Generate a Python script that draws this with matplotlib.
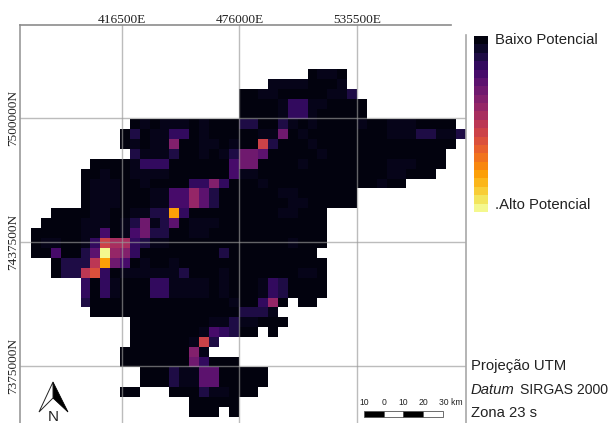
import numpy as np
import matplotlib
matplotlib.use("Agg")
import matplotlib.pyplot as plt
from matplotlib.patches import Polygon, Rectangle

W, H = 611, 423

# potential level per 5 km cell: 0-9 then a=10 ... k=20, '.' = no data
row_start = [28, 24, 21, 21, 21, 10, 9, 9, 10, 6, 5, 5, 5, 5, 2, 1, 0, 0, 0, 2, 2, 5, 5, 5, 6,
             10, 10, 10, 9, 9, 11, 11, 9, 16, 16]
row_cells = [
    "0110",
    "11110001",
    "001100000112",
    "0000133110000",
    "0000133100000",
    "01011101000" + "220021010000" + "1001110000",
    "020113301000" + "001160100000" + "00011122112",
    "010117001101" + "00b200010000" + "0000000000",
    "21112001012" + "665000001000" + "000000000",
    "0000" + "13330000004" + "660000100000" + "000111000",
    "00100" + "11110000004" + "110000000000" + "00011000",
    "01110" + "01000033730" + "001000000000" + "00100",
    "01110" + "00114485200" + "000011000000",
    "01110" + "00114485200" + "000001100000",
    "00001100" + "1122g300000" + "000011000",
    "000011101" + "26125011100" + "000000000",
    "0000011401" + "46220011000" + "000000000",
    "0110013b99" + "32110000000" + "000001000",
    "0040025k87" + "30000000020" + "00000000",
    "0222ag64" + "01001000000" + "000000000",
    "022ac301" + "11111200010" + "000000110",
    "30310" + "00331111010" + "001320000",
    "30310" + "00331111010" + "001320000",
    "20000" + "00000000001" + "00380" + ".00",
    "0000" + "00000000000" + "2221",
    "00000000112" + "11000",
    "0000000143200" + ".0",
    "000000" + "1b2",
    "0000000" + "71",
    "0000000" + "63000",
    "0002115500000",
    "0002115500000",
    "00..." + "000211000",
    "00000",
    "000.0",
]
level_chars = "0123456789abcdefghijk"
# the faintest class is barely above black in the picture
faint_value = 0.45
legend_levels = list(range(21))

x_ticks = [416500, 476000, 535500]
y_ticks = [7500000, 7437500, 7375000]
scale_labels = ["10", "0", "10", "20", "30 km"]
scale_pos = [-10000, 0, 10000, 20000, 30000]

x0, y_top = 370500, 7524500
cell = 5000
n_rows, n_cols = len(row_cells), 44

grid = np.full((n_rows, n_cols), np.nan)
for r, (start, cells) in enumerate(zip(row_start, row_cells)):
    for k, ch in enumerate(cells):
        if ch != ".":
            grid[r, start + k] = level_chars.index(ch)
grid[grid == 1] = faint_value

cmap = plt.get_cmap("inferno").copy()
cmap.set_bad("white")
sans = "Liberation Sans"
serif = "Liberation Serif"


def fx(px):
    return px / W


def fy(py):
    return 1 - py / H


def add_axes_px(left, top, right, bottom):
    return fig.add_axes([fx(left), fy(bottom), (right - left) / W, (bottom - top) / H])


fig = plt.figure(figsize=(W / 100, H / 100), dpi=100)

# map axes, in UTM metres
ax = add_axes_px(19.5, 25.5, 465.5, 423)
ax.set_xlim(364600, 590450)
ax.set_ylim(7346280, 7546620)
for s in ax.spines.values():
    s.set_visible(False)
ax.set_xticks([])
ax.set_yticks([])

xe = x0 + cell * np.arange(n_cols + 1)
ye = y_top - cell * np.arange(n_rows + 1)
ax.pcolormesh(xe, ye, np.ma.masked_invalid(grid), cmap=cmap, vmin=-0.5, vmax=20.5)

grid_col = (0.6, 0.6, 0.6)
for x in x_ticks:
    ax.axvline(x, color=grid_col, lw=1.0, alpha=0.65, zorder=3)
    ax.text(x, 7546620 - 300, f"{x}E", family=serif, fontsize=9.6, ha="center", va="bottom",
            color="#222222", clip_on=False)
for y in y_ticks:
    ax.axhline(y, color=grid_col, lw=1.0, alpha=0.65, zorder=3)
    ax.text(364600, y, f"{y}N", family=serif, fontsize=9.6, rotation=90, ha="right",
            va="center", color="#222222", clip_on=False)

# frame, top stops short and right side starts lower
ax.plot([0, 0], [0, 1], color="#9a9a9a", lw=1.2, transform=ax.transAxes, clip_on=False, zorder=4)
ax.plot([0, 0.9675], [1, 1], color="#8c8c8c", lw=1.2, transform=ax.transAxes, clip_on=False, zorder=4)
ax.plot([1, 1], [0, 0.975], color="#a8a8a8", lw=1.2, transform=ax.transAxes, clip_on=False, zorder=4)

# scale bar
bar_x = 539000
bar_y = 7349300
for i in range(4):
    ax.add_patch(Rectangle((bar_x + i * 10000, bar_y), 10000, 3000, lw=0.6, edgecolor="#555555",
                           facecolor="black" if i % 2 == 0 else "white", zorder=5))
for pos, lab in zip(scale_pos, scale_labels):
    ha = "left" if lab.endswith("km") else "center"
    off = -2200 if lab.endswith("km") else 0
    ax.text(bar_x + 10000 + pos + off, bar_y + 4800, lab, family=sans, fontsize=6.2, ha=ha, va="bottom",
            color="#222222")

# legend bar
cax = add_axes_px(474, 36, 488, 212)
cax.pcolormesh([0, 1], np.arange(22) - 0.5, np.array(legend_levels)[:, None], cmap=cmap, vmin=-0.5, vmax=20.5)
cax.invert_yaxis()
cax.axis("off")

fig.text(fx(495), fy(40), "Baixo Potencial", family=sans, fontsize=10.7, va="center", color="#222222")
fig.text(fx(495), fy(205), ".Alto Potencial", family=sans, fontsize=10.7, va="center", color="#222222")
fig.text(fx(471), fy(366), "Projeção UTM", family=sans, fontsize=10.7, va="center", color="#222222")
fig.text(fx(471), fy(390), "Datum", family=sans, style="italic", fontsize=10.7, va="center", color="#222222")
fig.text(fx(520), fy(390), "SIRGAS 2000", family=sans, fontsize=10.1, va="center", color="#222222")
fig.text(fx(471), fy(413), "Zona 23 s", family=sans, fontsize=10.7, va="center", color="#222222")

# north arrow
tip, left, right, notch = (53, 382), (39, 412), (68, 412), (53, 398)
to_fig = lambda p: (fx(p[0]), fy(p[1]))
fig.add_artist(Polygon([to_fig(tip), to_fig(right), to_fig(notch)], closed=True, facecolor="black",
                       edgecolor="black", lw=0.6, transform=fig.transFigure))
fig.add_artist(Polygon([to_fig(tip), to_fig(left), to_fig(notch)], closed=True, facecolor="white",
                       edgecolor="#222222", lw=0.7, transform=fig.transFigure))
fig.text(fx(53), fy(417), "N", family=sans, fontsize=11, ha="center", va="center", color="#222222")

fig.savefig("out.png", dpi=100, facecolor="white")
